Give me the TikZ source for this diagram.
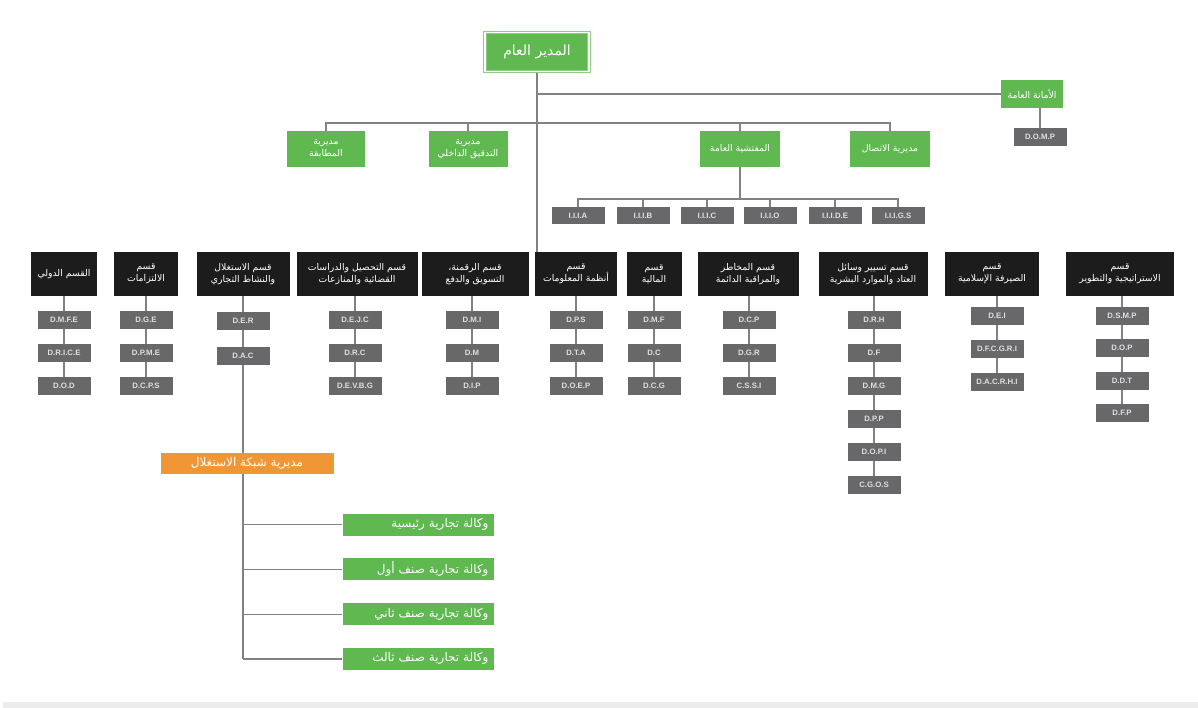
\documentclass[tikz,border=0pt]{standalone}
\usepackage{fontspec}
\setmainfont{Liberation Sans}
\newfontfamily\arabicfont[Script=Arabic]{DejaVu Sans}
\TeXXeTstate=1
\usetikzlibrary{backgrounds}
\newcommand{\artx}[1]{{\arabicfont\beginR #1\endR}}
\definecolor{orggreen}{RGB}{95,184,80}
\definecolor{orgblack}{RGB}{28,28,28}
\definecolor{orggray}{RGB}{104,104,106}
\definecolor{orgorange}{RGB}{240,150,52}
\definecolor{orgline}{RGB}{130,130,130}
\definecolor{orgband}{RGB}{236,236,236}
\begin{document}
\begin{tikzpicture}[x=1pt,y=-1pt,
  link/.style={draw=orgline,line width=1.2pt},
  gbox/.style={fill=orggreen,text=white,align=center,inner sep=1pt,font=\fontsize{9.3}{12}\selectfont},
  hbox/.style={fill=orgblack,text=white,align=center,inner sep=1pt,minimum height=44pt,font=\fontsize{9.3}{12}\selectfont},
  ubox/.style={fill=orggray,text=black!12,minimum width=53pt,minimum height=18pt,inner sep=1pt,font=\fontsize{7.8}{8}\selectfont\bfseries},
  abox/.style={fill=orggreen,text=white,text width=141pt,align=right,minimum height=22pt,inner xsep=5pt,font=\fontsize{12}{13}\selectfont}]
\useasboundingbox (0,0) rectangle (1198,708);
\fill[orgband] (3,702) rectangle (1198,708);

\node[gbox,minimum width=104pt,minimum height=39pt,draw=orggreen!70,double=white,double distance=1.5pt,line width=.8pt,font=\fontsize{14}{15}\selectfont] (dg) at (537,52) {\artx{المدير العام}};
\node[gbox,minimum width=62pt,minimum height=28pt] (amana) at (1032,94) {\artx{الأمانة العامة}};
\node[ubox] (domp) at (1040,137) {D.O.M.P};

\node[gbox,minimum width=78pt,minimum height=36pt] (mutabaqa) at (326,149) {\artx{مديرية}\\\artx{المطابقة}};
\node[gbox,minimum width=79pt,minimum height=36pt] (tadqiq) at (468,149) {\artx{مديرية}\\\artx{التدقيق الداخلي}};
\node[gbox,minimum width=80pt,minimum height=36pt] (mufat) at (740,149) {\artx{المفتشية العامة}};
\node[gbox,minimum width=80pt,minimum height=36pt] (ittisal) at (890,149) {\artx{مديرية الاتصال}};

\foreach \lab/\x [count=\i] in {I.I.I.A/578,I.I.I.B/643,I.I.I.C/707,I.I.I.O/770,I.I.I.D.E/835,I.I.I.G.S/898}
  \node[ubox,minimum height=17pt] (ii\i) at (\x,216) {\lab};

\node[hbox,minimum width=66pt] (h1) at (64,274) {\artx{القسم الدولي}};
\node[hbox,minimum width=64pt] (h2) at (146,274) {\artx{قسم}\\\artx{الالتزامات}};
\node[hbox,minimum width=93pt] (h3) at (243,274) {\artx{قسم الاستغلال}\\\artx{والنشاط التجاري}};
\node[hbox,minimum width=121pt] (h4) at (357,274) {\artx{قسم التحصيل والدراسات}\\\artx{القضائية والمنازعات}};
\node[hbox,minimum width=107pt] (h5) at (475,274) {\artx{قسم الرقمنة،}\\\artx{التسويق والدفع}};
\node[hbox,minimum width=82pt] (h6) at (576,274) {\artx{قسم}\\\artx{أنظمة المعلومات}};
\node[hbox,minimum width=55pt] (h7) at (654,274) {\artx{قسم}\\\artx{المالية}};
\node[hbox,minimum width=101pt] (h8) at (748,274) {\artx{قسم المخاطر}\\\artx{والمراقبة الدائمة}};
\node[hbox,minimum width=109pt] (h9) at (873,274) {\artx{قسم تسيير وسائل}\\\artx{العتاد والموارد البشرية}};
\node[hbox,minimum width=94pt] (h10) at (992,274) {\artx{قسم}\\\artx{الصيرفة الإسلامية}};
\node[hbox,minimum width=108pt] (h11) at (1120,274) {\artx{قسم}\\\artx{الاستراتيجية والتطوير}};

\foreach \lab [count=\i] in {D.M.F.E,D.R.I.C.E,D.O.D} \node[ubox] (c1-\i) at (64,287+33*\i) {\lab};
\foreach \lab [count=\i] in {D.G.E,D.P.M.E,D.C.P.S} \node[ubox] (c2-\i) at (146,287+33*\i) {\lab};
\foreach \lab [count=\i] in {D.E.R,D.A.C} \node[ubox] (c3-\i) at (243,286+35*\i) {\lab};
\foreach \lab [count=\i] in {D.E.J.C,D.R.C,D.E.V.B.G} \node[ubox] (c4-\i) at (355,287+33*\i) {\lab};
\foreach \lab [count=\i] in {D.M.I,D.M,D.I.P} \node[ubox] (c5-\i) at (472,287+33*\i) {\lab};
\foreach \lab [count=\i] in {D.P.S,D.T.A,D.O.E.P} \node[ubox] (c6-\i) at (576,287+33*\i) {\lab};
\foreach \lab [count=\i] in {D.M.F,D.C,D.C.G} \node[ubox] (c7-\i) at (654,287+33*\i) {\lab};
\foreach \lab [count=\i] in {D.C.P,D.G.R,C.S.S.I} \node[ubox] (c8-\i) at (749,287+33*\i) {\lab};
\foreach \lab [count=\i] in {D.R.H,D.F,D.M.G,D.P.P,D.O.P.I,C.G.O.S} \node[ubox] (c9-\i) at (874,287+33*\i) {\lab};
\foreach \lab [count=\i] in {D.E.I,D.F.C.G.R.I,D.A.C.R.H.I} \node[ubox] (c10-\i) at (997,283+33*\i) {\lab};
\foreach \lab [count=\i] in {D.S.M.P,D.O.P,D.D.T,D.F.P} \node[ubox] (c11-\i) at (1122,283+32.5*\i) {\lab};

\node[fill=orgorange,text=white,minimum width=173pt,minimum height=21pt,inner sep=1pt,font=\fontsize{12}{13}\selectfont] (reseau) at (247,463) {\artx{مديرية شبكة الاستغلال}};
\foreach \lab [count=\i] in {وكالة تجارية رئيسية,وكالة تجارية صنف أول,وكالة تجارية صنف ثاني,وكالة تجارية صنف ثالث}
  \node[abox] (ag\i) at (418,479.7+44.8*\i) {\artx{\lab}};

\begin{scope}[on background layer]
\draw[link] (dg) -- (dg.south |- h6.north);
\draw[link] (dg.south |- amana) -- (amana);
\draw[link] (domp) -- (domp |- amana.south);
\coordinate (bar) at (0,123);
\draw[link] (mutabaqa) -- (mutabaqa |- bar) -- (ittisal |- bar) -- (ittisal);
\foreach \n in {tadqiq,mufat} \draw[link] (\n) -- (\n |- bar);
\coordinate (ibar) at (0,199);
\draw[link] (mufat) -- (mufat |- ibar);
\draw[link] (ii1) -- (ii1 |- ibar) -- (ii6 |- ibar) -- (ii6);
\foreach \i in {2,...,5} \draw[link] (ii\i) -- (ii\i |- ibar);
\foreach \k/\n in {1/3,2/3,4/3,5/3,6/3,7/3,8/3,9/6,10/3,11/4} \draw[link] (c\k-\n) -- (c\k-\n |- h\k.south);
\draw[link] (h3) -- (h3 |- ag4);
\foreach \i in {1,...,4} \draw[link] (h3 |- ag\i) -- (ag\i);
\end{scope}
\end{tikzpicture}
\end{document}
